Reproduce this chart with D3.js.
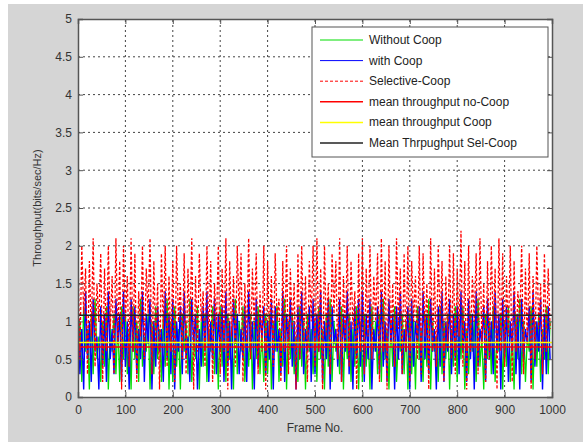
<!DOCTYPE html>
<html>
<head>
<meta charset="utf-8">
<script src="https://cdn.jsdelivr.net/npm/d3@7"></script>
<style>
  body { margin: 0; background: #fff; }
  text { font-family: "Liberation Sans", Arial, sans-serif; }
</style>
</head>
<body>
<div id="svg-container"></div>
<script>
// data: one sample every 4 frames
let frameStep = 4;

let withoutCoop = [
  0.4,1.0,0.2,1.2,0.6,0.9,0.1,1.1,0.3,1.3,0.5,0.8,0.2,1.0,0.4,1.2,0.1,0.9,0.6,1.1,0.3,1.0,0.2,1.2,0.5,
  1.1,0.3,0.9,0.1,1.2,0.5,1.0,0.2,1.3,0.4,0.8,0.6,1.1,0.1,1.0,0.3,1.2,0.5,0.9,0.2,1.1,0.4,1.3,0.1,1.0,
  0.2,1.2,0.4,0.9,0.1,1.1,0.6,1.0,0.3,1.3,0.2,0.8,0.5,1.2,0.1,1.0,0.4,1.1,0.2,0.9,0.6,1.2,0.3,1.0,0.1,
  1.2,0.4,1.0,0.2,1.1,0.5,0.9,0.1,1.3,0.3,1.0,0.6,1.2,0.2,0.8,0.4,1.1,0.1,1.0,0.5,1.2,0.3,0.9,0.2,1.1,
  0.3,1.1,0.1,1.0,0.6,1.2,0.2,0.9,0.4,1.3,0.1,1.0,0.5,1.1,0.3,0.8,0.2,1.2,0.4,1.0,0.1,1.1,0.6,0.9,0.3,
  1.0,0.2,1.2,0.5,0.9,0.1,1.1,0.4,1.3,0.2,1.0,0.6,0.8,0.3,1.2,0.1,1.0,0.5,1.1,0.2,0.9,0.4,1.2,0.1,1.0,
  0.2,1.1,0.4,0.9,0.1,1.2,0.6,1.0,0.3,1.1,0.2,1.3,0.5,0.9,0.1,1.0,0.4,1.2,0.2,0.8,0.6,1.1,0.3,1.0,0.1,
  1.1,0.3,1.0,0.1,1.2,0.5,0.9,0.2,1.1,0.4,1.3,0.1,1.0,0.6,0.8,0.2,1.2,0.3,1.0,0.5,1.1,0.1,0.9,0.4,1.2,
  0.2,1.0,0.5,1.2,0.1,0.9,0.3,1.1,0.6,1.0,0.2,1.3,0.4,0.8,0.1,1.1,0.5,1.0,0.3,1.2,0.2,0.9,0.6,1.1,0.1,
  1.0,0.4,1.2,0.2,0.9,0.1,1.1,0.5,1.3,0.3,1.0,0.2,0.8,0.6,1.2,0.1,1.0,0.4,1.1,0.2,0.9,0.5,1.2,0.3,1.0
];

let withCoop = [
  1.2,0.3,0.9,0.1,1.4,0.5,1.0,0.2,1.3,0.6,0.8,0.1,1.2,0.4,1.1,0.2,1.4,0.5,0.9,0.3,1.3,0.7,1.1,0.2,1.4,
  0.4,1.0,0.1,1.3,0.6,1.2,0.3,0.9,0.5,1.4,0.2,1.1,0.7,1.3,0.1,1.0,0.4,1.2,0.6,0.9,0.2,1.4,0.5,1.1,0.3,
  1.3,0.1,1.0,0.6,1.2,0.3,1.4,0.5,0.8,0.2,1.3,0.7,1.1,0.1,0.9,0.4,1.2,0.6,1.4,0.2,1.0,0.5,1.3,0.3,1.1,
  0.6,1.2,0.2,1.4,0.4,1.0,0.1,1.3,0.7,1.1,0.3,0.9,0.5,1.2,0.2,1.4,0.6,1.0,0.1,1.3,0.4,1.1,0.8,1.2,0.3,
  1.0,0.5,1.3,0.1,1.2,0.6,0.9,0.3,1.4,0.2,1.1,0.7,1.3,0.4,1.0,0.1,1.2,0.5,1.4,0.3,0.9,0.6,1.2,0.2,1.3,
  0.3,1.1,0.6,1.4,0.2,1.0,0.5,1.3,0.1,1.2,0.7,0.9,0.4,1.3,0.2,1.1,0.6,1.4,0.3,1.0,0.1,1.2,0.5,1.3,0.4,
  1.4,0.2,1.1,0.5,1.3,0.1,0.9,0.6,1.2,0.3,1.4,0.4,1.0,0.2,1.3,0.7,1.1,0.1,1.2,0.5,1.4,0.3,0.9,0.6,1.2,
  0.1,1.3,0.4,1.0,0.7,1.2,0.2,1.4,0.5,1.1,0.3,1.3,0.6,0.9,0.1,1.2,0.4,1.4,0.2,1.0,0.6,1.3,0.3,1.1,0.5,
  1.2,0.3,1.4,0.6,1.0,0.2,1.3,0.5,1.1,0.1,1.4,0.4,0.9,0.7,1.2,0.2,1.3,0.5,1.0,0.3,1.4,0.6,1.1,0.1,1.3,
  0.5,1.2,0.2,1.0,0.6,1.4,0.3,1.1,0.1,1.3,0.5,0.9,0.7,1.2,0.2,1.4,0.4,1.0,0.6,1.3,0.1,1.1,0.3,1.2,0.5
];

let selectiveCoop = [
  1.9,0.5,2.0,1.1,1.7,0.3,1.8,0.8,2.1,0.4,1.5,1.0,1.9,0.2,1.7,0.6,2.0,0.9,1.6,0.3,2.1,0.7,1.8,0.1,2.0,
  1.0,1.6,0.4,2.1,0.6,1.9,0.2,1.4,0.8,2.0,0.5,1.7,1.1,2.1,0.3,1.8,0.7,1.5,0.1,1.9,0.9,2.0,0.4,1.6,0.6,
  1.8,0.2,2.0,1.0,1.5,0.5,1.9,0.3,1.7,0.8,2.1,0.1,1.6,0.6,1.9,1.0,1.4,0.4,2.0,0.7,1.8,0.2,1.5,0.9,2.0,
  0.3,1.7,0.6,2.1,0.1,1.8,0.8,1.6,0.4,2.0,1.1,1.9,0.2,1.5,0.7,2.1,0.5,1.7,0.9,1.9,0.3,1.4,0.6,2.0,0.1,
  1.8,0.8,1.6,0.4,1.9,1.0,1.3,0.2,1.8,0.6,2.0,0.3,1.7,0.9,1.5,0.1,1.9,0.5,2.0,0.7,1.6,0.2,1.8,1.0,2.0,
  0.4,2.1,0.6,1.7,0.1,2.0,0.8,1.5,0.3,1.9,1.1,1.8,0.5,2.1,0.2,1.6,0.7,2.0,0.4,1.8,0.9,1.4,0.1,1.9,0.6,
  2.1,0.3,1.7,0.8,2.0,0.5,1.6,1.0,1.9,0.2,2.1,0.6,1.8,0.1,2.0,0.7,1.5,0.4,2.1,0.9,1.7,0.3,1.9,0.6,2.0,
  0.2,1.8,1.0,1.6,0.5,2.0,0.3,1.9,0.8,1.5,0.1,2.1,0.6,1.7,0.4,2.0,0.9,1.8,0.2,1.6,0.7,2.0,0.5,1.9,0.3,
  1.7,0.8,2.2,0.4,1.8,0.1,2.0,0.6,1.6,1.0,1.9,0.3,2.1,0.7,1.5,0.2,1.8,0.5,2.0,0.9,1.7,0.1,2.1,0.6,1.9,
  0.4,1.6,0.8,2.0,0.2,1.8,0.6,1.4,1.0,2.0,0.3,1.7,0.7,1.9,0.1,1.6,0.5,2.0,0.9,1.5,0.3,1.9,0.6,1.7,0.9
];

let meanNoCoop = 0.66;
let meanCoop = 0.72;
let meanSelCoop = 1.08;

let xTicks = [0, 100, 200, 300, 400, 500, 600, 700, 800, 900, 1000];
let yTicks = [0, 0.5, 1, 1.5, 2, 2.5, 3, 3.5, 4, 4.5, 5];

let legendNames = ['Without Coop', 'with Coop', 'Selective-Coop', 'mean throughput no-Coop', 'mean throughput Coop', 'Mean Thrpughput Sel-Coop'];

let w = 588;
let h = 442;
let m = {left: 78, right: 36, top: 19, bottom: 45};

let svg = d3.select('#svg-container').
append('svg').
attr('width', w).
attr('height', h);

// grey figure background
svg.append('rect').
attr('x', 8).
attr('y', 4).
attr('width', 575).
attr('height', h - 4).
attr('fill', '#d5d5d5');

let x = d3.scaleLinear().domain([0, 1000]).range([m.left, w - m.right]);
let y = d3.scaleLinear().domain([0, 5]).range([h - m.bottom, m.top]);

svg.append('rect').
attr('x', m.left).
attr('y', m.top).
attr('width', x(1000) - m.left).
attr('height', y(0) - m.top).
attr('fill', '#fff');

// dotted grid
svg.append('g').selectAll('line').
data(xTicks.slice(1, -1)).
enter().
append('line').
attr('x1', d => x(d)).attr('x2', d => x(d)).
attr('y1', y(0)).attr('y2', y(5)).
attr('stroke', '#444').
attr('stroke-dasharray', '2,3');

svg.append('g').selectAll('line').
data(yTicks.slice(1, -1)).
enter().
append('line').
attr('x1', x(0)).attr('x2', x(1000)).
attr('y1', d => y(d)).attr('y2', d => y(d)).
attr('stroke', '#444').
attr('stroke-dasharray', '2,3');

let line = d3.line().
x((d, i) => x(i * frameStep)).
y(d => y(d));

svg.append('clipPath').attr('id', 'clip').
append('rect').
attr('x', m.left).attr('y', m.top).
attr('width', x(1000) - m.left).attr('height', y(0) - m.top);

let plot = svg.append('g').attr('clip-path', 'url(#clip)');

plot.append('path').
datum(withoutCoop).
attr('d', line).
attr('fill', 'none').
attr('stroke', '#00dd00').
attr('stroke-width', 1.3);

plot.append('path').
datum(withCoop).
attr('d', line).
attr('fill', 'none').
attr('stroke', '#0000ff').
attr('stroke-width', 1.4);

plot.append('path').
datum(selectiveCoop).
attr('d', line).
attr('fill', 'none').
attr('stroke', '#ff0000').
attr('stroke-width', 1.3).
attr('stroke-dasharray', '3,2');

let means = [
  {v: meanNoCoop, c: '#ff0000'},
  {v: meanCoop, c: '#ffff00'},
  {v: meanSelCoop, c: '#222222'}
];

plot.selectAll('.mean').
data(means).
enter().
append('line').
attr('class', 'mean').
attr('x1', x(0)).attr('x2', x(1000)).
attr('y1', d => y(d.v)).attr('y2', d => y(d.v)).
attr('stroke', d => d.c).
attr('stroke-width', 1.5);

// axes, ticks pointing inward like matlab
let axisColor = '#555';
let tickFont = 12;

let xAxis = d3.axisBottom(x).tickValues(xTicks).tickSize(-5).tickPadding(8).tickFormat(d3.format('d'));
let yAxis = d3.axisLeft(y).tickValues(yTicks).tickSize(-5).tickPadding(6).tickFormat(d => d);

let gx = svg.append('g').attr('transform', 'translate(0,' + y(0) + ')').call(xAxis);
let gy = svg.append('g').attr('transform', 'translate(' + m.left + ',0)').call(yAxis);
let gx2 = svg.append('g').attr('transform', 'translate(0,' + y(5) + ')').call(d3.axisTop(x).tickValues(xTicks).tickSize(-5).tickFormat(''));
let gy2 = svg.append('g').attr('transform', 'translate(' + x(1000) + ',0)').call(d3.axisRight(y).tickValues(yTicks).tickSize(-5).tickFormat(''));

[gx, gy, gx2, gy2].forEach(g => {
  g.select('.domain').attr('stroke', axisColor).attr('stroke-width', 1.5);
  g.selectAll('.tick line').attr('stroke', axisColor);
  g.selectAll('text').
  attr('fill', '#333').
  style('font-size', tickFont + 'px').
  style('font-family', '"Liberation Sans", Arial, sans-serif');
});

svg.append('text').
attr('x', (x(0) + x(1000)) / 2).
attr('y', 432).
attr('text-anchor', 'middle').
attr('fill', '#333').
style('font-size', '12px').
text('Frame No.');

svg.append('text').
attr('transform', 'translate(41,' + (y(2.5)) + ') rotate(-90)').
attr('text-anchor', 'middle').
attr('fill', '#333').
style('font-size', '11px').
text('Throughput(bits/sec/Hz)');

// legend
let legend = svg.append('g').attr('transform', 'translate(312,27)');

legend.append('rect').
attr('width', 236).
attr('height', 130).
attr('fill', '#fff').
attr('stroke', '#555');

let legendStyle = [
  {c: '#00dd00', dash: null},
  {c: '#0000ff', dash: null},
  {c: '#ff0000', dash: '3,2'},
  {c: '#ff0000', dash: null, sw: 1.5},
  {c: '#ffff00', dash: null, sw: 1.5},
  {c: '#222222', dash: null, sw: 1.5}
];

let rows = legend.selectAll('.row').
data(legendNames).
enter().
append('g').
attr('class', 'row').
attr('transform', (d, i) => 'translate(0,' + (13 + i * 20.6) + ')');

rows.append('line').
attr('x1', 8).attr('x2', 51).
attr('stroke', (d, i) => legendStyle[i].c).
attr('stroke-width', (d, i) => legendStyle[i].sw || 1).
attr('stroke-dasharray', (d, i) => legendStyle[i].dash);

rows.append('text').
attr('x', 57).
attr('y', 4).
attr('fill', '#222').
style('font-size', '12px').
text(d => d);
</script>
</body>
</html>
